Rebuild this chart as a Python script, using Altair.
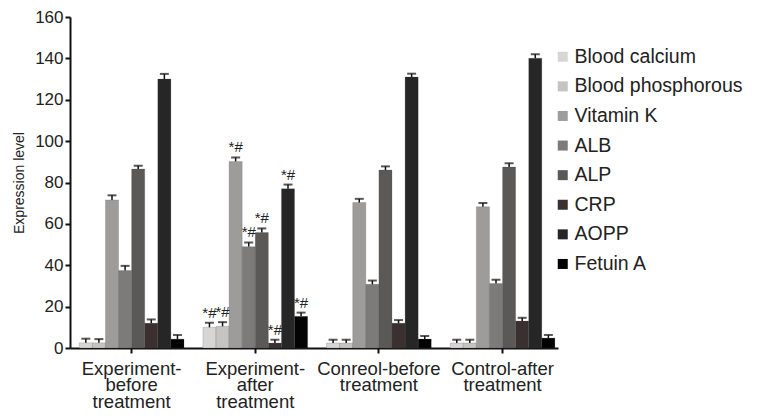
import altair as alt
import pandas as pd

groups = ["Experiment-\nbefore\ntreatment", "Experiment-\nafter\ntreatment",
          "Conreol-before\ntreatment", "Control-after\ntreatment"]
markers = ["Blood calcium", "Blood phosphorous", "Vitamin K", "ALB", "ALP",
           "CRP", "AOPP", "Fetuin A"]
colors = ["#d8d5d5", "#c6c3c3", "#9e9b9b", "#7d7a7a", "#5b5858",
          "#3a3030", "#262626", "#030303"]

exp_before = [2.5, 2.5, 71.6, 37.5, 86.5, 12.0, 130.0, 4.3]
exp_after = [10.0, 10.5, 90.2, 49.0, 55.8, 2.4, 77.0, 15.3]
con_before = [2.4, 2.4, 70.3, 30.8, 86.0, 12.0, 131.0, 4.3]
con_after = [2.4, 2.4, 68.3, 31.2, 87.5, 13.0, 140.1, 4.8]

exp_before_err = [2.0, 1.8, 2.2, 2.2, 1.6, 1.8, 2.5, 2.0]
exp_after_err = [2.2, 2.0, 1.9, 2.0, 2.0, 1.6, 2.0, 1.8]
con_before_err = [1.6, 1.6, 1.8, 1.8, 1.8, 1.5, 1.6, 1.5]
con_after_err = [1.6, 1.6, 1.8, 1.8, 1.8, 1.6, 1.9, 1.5]

exp_after_sig = ["*#"] * 8

values = [exp_before, exp_after, con_before, con_after]
errors = [exp_before_err, exp_after_err, con_before_err, con_after_err]

rows = []
for gi, g in enumerate(groups):
    for mi, m in enumerate(markers):
        v = values[gi][mi]
        e = errors[gi][mi]
        rows.append({
            "group": g, "marker": m, "value": v, "top": v + e,
            "sig": exp_after_sig[mi] if gi == 1 else "",
        })
df = pd.DataFrame(rows)

FONT = "Liberation Sans"

x_enc = alt.X("group:N", sort=groups,
              scale=alt.Scale(paddingInner=0.153, paddingOuter=0.05, align=0.75),
              axis=alt.Axis(title=None, labelAngle=0, labelFontSize=18.5,
                            labelColor="#222", labelLineHeight=16.5,
                            labelExpr="split(datum.label, '\\n')",
                            labelBaseline="top", labelPadding=6,
                            tickSize=5, tickWidth=2, tickColor="#111",
                            domainColor="#111", domainWidth=2,
                            labelFont=FONT))
xoff = alt.XOffset("marker:N", sort=markers, scale=alt.Scale(paddingInner=0, paddingOuter=0))

base = alt.Chart(df)

bars = base.mark_bar(stroke="#444", strokeWidth=0.4, strokeOpacity=0.5).encode(
    x=x_enc,
    xOffset=xoff,
    y=alt.Y("value:Q", scale=alt.Scale(domain=[0, 160], nice=False),
            axis=alt.Axis(title="Expression level", values=list(range(0, 161, 20)),
                          labelFontSize=17, labelColor="#222", titleFontSize=14,
                          titleFontWeight="normal", titleColor="#222",
                          titlePadding=8, tickSize=5, tickWidth=2,
                          tickColor="#111", domainColor="#111", domainWidth=2,
                          grid=False, labelFont=FONT, titleFont=FONT,
                          labelPadding=2)),
    color=alt.Color("marker:N", sort=markers,
                    scale=alt.Scale(domain=markers, range=colors),
                    legend=alt.Legend(title=None, orient="none", legendX=483,
                                      legendY=30, symbolType="square",
                                      symbolSize=100, symbolStrokeWidth=0,
                                      labelFontSize=19.5, labelColor="#222",
                                      labelFont=FONT, rowPadding=8.6,
                                      labelOffset=2, labelLimit=300)),
)

rules = base.mark_rule(color="#111", strokeWidth=1.5).encode(
    x=alt.X("group:N", sort=groups),
    xOffset=xoff,
    y="value:Q",
    y2="top:Q",
)

caps = base.mark_tick(color="#111", thickness=2, size=9).encode(
    x=alt.X("group:N", sort=groups),
    xOffset=xoff,
    y="top:Q",
)

labels = base.mark_text(fontSize=15, color="#222", baseline="bottom", dy=-2,
                        font=FONT).encode(
    x=alt.X("group:N", sort=groups),
    xOffset=xoff,
    y="top:Q",
    text="sig:N",
)

chart = alt.layer(bars, rules, caps, labels).properties(
    width=488, height=331,
    autosize="none",
    padding={"left": 62, "top": 9, "right": 193, "bottom": 62},
).configure_view(stroke=None)

chart.save("out.html", embed_options={"renderer": "svg", "actions": False})
